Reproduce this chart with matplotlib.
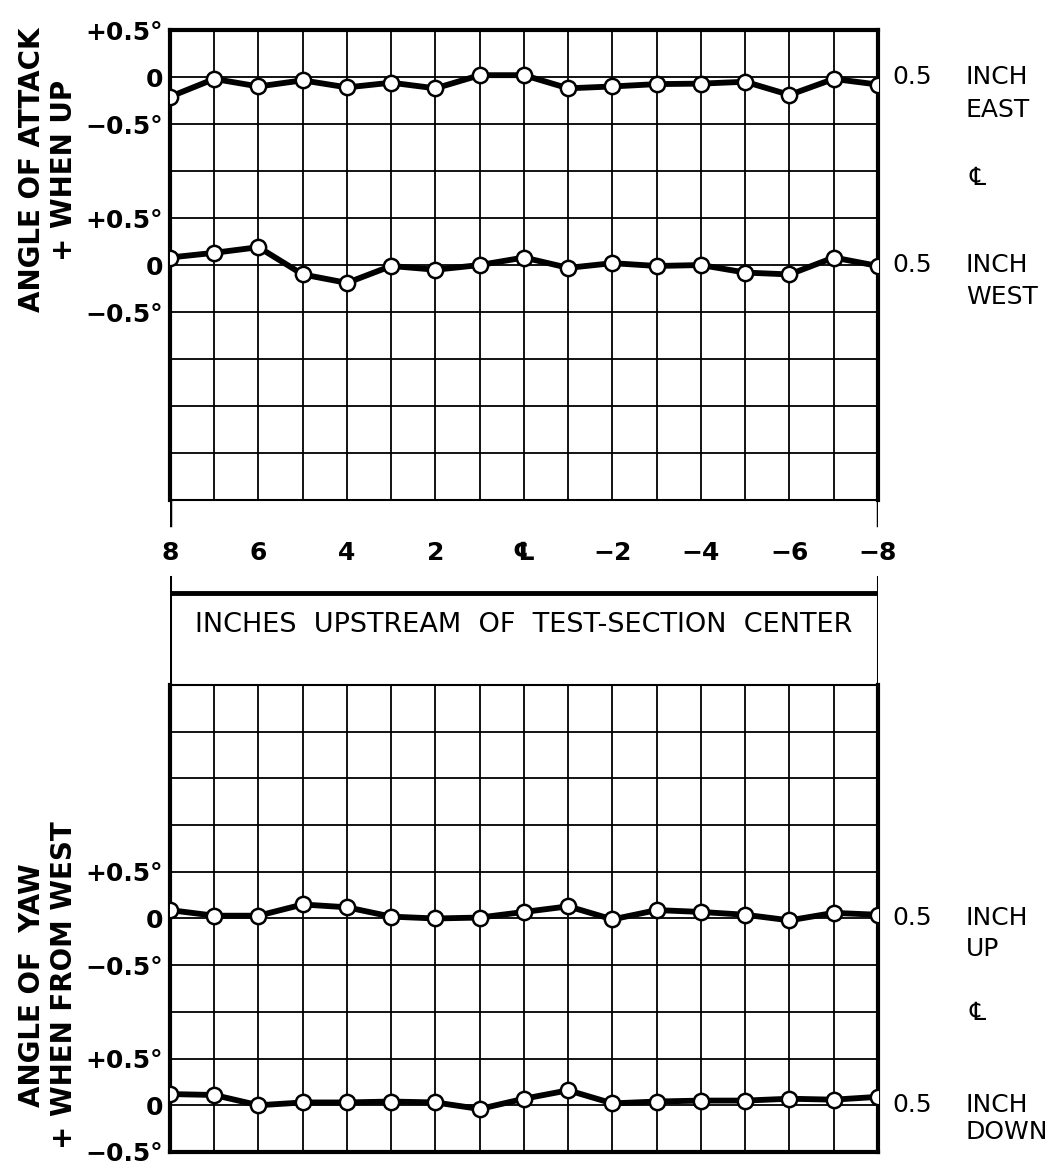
import numpy as np
import matplotlib
matplotlib.use("Agg")
import matplotlib.pyplot as plt

plt.rcParams['font.family'] = ['DejaVu Sans']

# stations, inches upstream of test-section center
stations = np.arange(8, -9, -1)
tick_pos = [8, 6, 4, 2, 0, -2, -4, -6, -8]
tick_txt = ['8', '6', '4', '2', '\u2104', '\u22122', '\u22124', '\u22126', '\u22128']

# angle of attack, degrees
attack_east = [-0.21, -0.02, -0.10, -0.035, -0.11, -0.06, -0.12, 0.02, 0.02,
               -0.12, -0.10, -0.075, -0.07, -0.05, -0.19, -0.02, -0.08]
attack_west = [0.08, 0.13, 0.19, -0.10, -0.19, -0.01, -0.05, 0.0, 0.08,
               -0.03, 0.02, -0.01, 0.0, -0.08, -0.10, 0.08, -0.01]

# angle of yaw, degrees
yaw_up = [0.09, 0.03, 0.03, 0.15, 0.12, 0.02, 0.0, 0.01, 0.07,
          0.13, -0.01, 0.09, 0.07, 0.04, -0.02, 0.06, 0.04]
yaw_down = [0.12, 0.11, 0.0, 0.03, 0.03, 0.04, 0.03, -0.04, 0.07,
            0.16, 0.02, 0.04, 0.05, 0.05, 0.07, 0.06, 0.09]

OFFSET = 2.0  # the lower curve of each panel sits 4 grid rows down

fig = plt.figure(figsize=(10.53, 11.65), dpi=100)
ax1 = fig.add_axes([0.1614, 0.5708, 0.6724, 0.4034])
ax2 = fig.add_axes([0.1614, 0.0112, 0.6724, 0.4008])
axm = fig.add_axes([0.1614, 0.4120, 0.6724, 0.1588])


def setup(ax, ylo, yhi, labels):
    ax.set_xlim(8, -8)
    ax.set_ylim(ylo, yhi)
    ax.set_xticks(stations)
    yt = np.arange(yhi, ylo - 0.01, -0.5)
    ax.set_yticks(yt)
    ax.set_yticklabels([labels.get(round(v, 2), '') for v in yt],
                       fontsize=18, fontweight='bold')
    ax.set_xticklabels([])
    ax.tick_params(length=0, pad=5)
    ax.grid(True, color='black', lw=1.3)
    ax.set_axisbelow(True)


def curve(ax, vals, off):
    ax.plot(stations, np.array(vals) - off, color='black', lw=4.2,
            marker='o', ms=11, mfc='white', mec='black', mew=1.8,
            solid_joinstyle='round', zorder=3)


labels = {0.5: '+0.5°', 0.0: '0', -0.5: '\u22120.5°',
          -1.5: '+0.5°', -2.0: '0', -2.5: '\u22120.5°'}
setup(ax1, -4.5, 0.5, labels)
setup(ax2, -2.5, 2.5, labels)

for s in ['top', 'left', 'right']:
    ax1.spines[s].set_linewidth(3)
ax1.spines['bottom'].set_linewidth(1.5)
for s in ['bottom', 'left', 'right']:
    ax2.spines[s].set_linewidth(3)
ax2.spines['top'].set_linewidth(1.5)

curve(ax1, attack_east, 0)
curve(ax1, attack_west, OFFSET)
curve(ax2, yaw_up, 0)
curve(ax2, yaw_down, OFFSET)


def side_labels(ax, top_word, bot_word, dy1, dcl, dy2):
    tr = ax.get_yaxis_transform()
    kw = dict(transform=tr, fontsize=18, va='center', clip_on=False)
    for base, word, dy in [(0, top_word, dy1), (-OFFSET, bot_word, dy2)]:
        ax.text(1.021, base, '0.5', ha='left', **kw)
        ax.text(1.124, base, 'INCH', ha='left', **kw)
        ax.text(1.124, base + dy, word, ha='left', **kw)
    ax.text(1.14, dcl, '\u2104', ha='center', **kw)


side_labels(ax1, 'EAST', 'WEST', -0.35, -1.07, -0.34)
side_labels(ax2, 'UP', 'DOWN', -0.33, -1.01, -0.29)

# y-axis titles
tkw = dict(rotation=90, fontsize=20, fontweight='bold', ha='center',
           va='center')
fig.text(0.030, 1 - 170 / 1165, 'ANGLE OF ATTACK', **tkw)
fig.text(0.061, 1 - 170 / 1165, '+ WHEN UP', **tkw)
fig.text(0.030, 1 - 985 / 1165, 'ANGLE OF  YAW', **tkw)
fig.text(0.061, 1 - 985 / 1165, '+ WHEN FROM WEST', **tkw)

# middle strip: station scale and x-axis title box (y in pixel rows)
axm.set_xlim(8, -8)
axm.set_ylim(685, 500)
axm.axis('off')
for xe in (8, -8):
    axm.plot([xe, xe], [500, 525], color='black', lw=2.5)
    axm.plot([xe, xe], [577, 685], color='black', lw=2.2)
axm.plot([8, -8], [593, 593], color='black', lw=3.5)
for xp, t in zip(tick_pos, tick_txt):
    axm.text(xp, 553, t, fontsize=18, fontweight='bold', ha='center',
             va='center')
axm.text(0, 625, 'INCHES  UPSTREAM  OF  TEST-SECTION  CENTER', fontsize=19.5,
         ha='center', va='center')

fig.savefig('out.png', dpi=100)
